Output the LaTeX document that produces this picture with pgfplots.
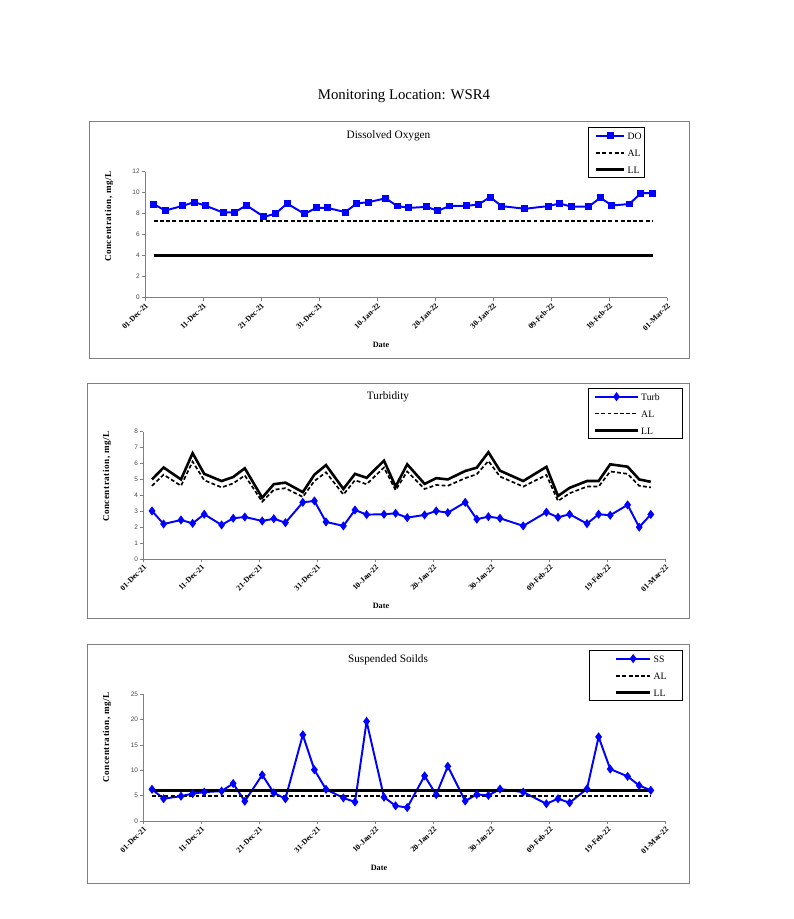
\documentclass[border=0pt]{standalone}
\usepackage{fontspec}
\setmainfont{Liberation Serif}
\setsansfont{Liberation Sans}
\usepackage{pgfplots}
\usepackage{pgfplotstable}
\pgfplotsset{compat=1.18}

\pgfplotstableread{
x DO Turb TAL TLL SS
1.5 8.90 3.02 4.60 5.00 6.25
3.5 8.30 2.20 5.30 5.75 4.40
6.5 8.75 2.45 4.60 5.00 4.90
8.5 9.10 2.24 6.12 6.65 5.40
10.5 8.75 2.81 4.95 5.35 5.70
13.5 8.10 2.14 4.50 4.90 5.90
15.5 8.15 2.56 4.75 5.15 7.40
17.5 8.80 2.64 5.25 5.70 3.90
20.5 7.70 2.39 3.60 3.85 9.10
22.5 8.00 2.53 4.35 4.70 5.55
24.5 8.97 2.28 4.45 4.80 4.40
27.5 7.98 3.56 3.90 4.20 17.00
29.5 8.55 3.65 4.90 5.30 10.10
31.5 8.55 2.33 5.45 5.90 6.25
34.5 8.15 2.08 4.05 4.40 4.55
36.5 8.97 3.08 4.95 5.35 3.75
38.5 9.10 2.79 4.70 5.10 19.65
41.5 9.46 2.81 5.75 6.18 4.70
43.5 8.73 2.87 4.32 4.55 3.00
45.5 8.55 2.60 5.50 5.95 2.65
48.5 8.65 2.77 4.40 4.72 8.90
50.5 8.28 3.02 4.65 5.08 5.20
52.5 8.73 2.91 4.60 5.00 10.80
55.5 8.75 3.56 5.08 5.53 3.95
57.5 8.88 2.50 5.33 5.74 5.25
59.5 9.58 2.66 6.16 6.71 5.05
61.5 8.72 2.56 5.18 5.55 6.30
65.5 8.47 2.08 4.55 4.90 5.70
69.5 8.72 2.94 5.28 5.79 3.40
71.5 8.97 2.62 3.65 3.96 4.40
73.5 8.67 2.81 4.13 4.47 3.60
76.5 8.67 2.22 4.55 4.90 6.35
78.5 9.52 2.81 4.55 4.90 16.60
80.5 8.78 2.75 5.50 5.95 10.25
83.5 8.92 3.40 5.35 5.80 8.80
85.5 9.95 2.00 4.60 5.00 7.00
87.5 9.95 2.80 4.50 4.85 6.05
}\datatable

\definecolor{exblue}{RGB}{0,0,255}
\definecolor{axgray}{RGB}{128,128,128}
\definecolor{lblgray}{RGB}{70,70,70}

\pgfplotsset{
  panel/.style={
    scale only axis, width=402.35pt, anchor=south west,
    xmin=0, xmax=90,
    axis x line=bottom, axis y line=left,
    axis line style={-, draw=axgray, line width=0.6pt},
    tick align=outside, major tick length=2.4pt,
    tick style={draw=axgray, line width=0.6pt},
    xtick={0,10,...,90},
    xticklabels={01-Dec-21,11-Dec-21,21-Dec-21,31-Dec-21,10-Jan-22,20-Jan-22,30-Jan-22,09-Feb-22,19-Feb-22,01-Mar-22},
    xticklabel style={font=\fontsize{6}{7}\selectfont\bfseries, rotate=45, anchor=north east, inner sep=0.8pt},
    yticklabel style={font=\fontsize{5}{6}\selectfont\sffamily, text=lblgray, inner sep=1.5pt},
    /pgf/number format/assume math mode=true,
    legend cell align=left,
    clip=false,
  },
  leg/.style n args={3}{
    legend style={at={(axis description cs:#1,#2)}, anchor=north west,
      draw=black, line width=1pt, fill=white,
      inner xsep=0pt, inner ysep=3.5pt, row sep=7.8pt,
      font=\fontsize{7.5}{8}\selectfont,
      nodes={inner sep=0pt, text height=5.3pt, text depth=0pt, text width=#3, align=left}},
  },
  ALstyle/.style={black, line width=1.5pt, dash pattern=on 3pt off 1.8pt, mark=none},
  LLstyle/.style={black, line width=2.3pt, mark=none},
  legDO/.style={legend image code/.code={\path (0pt,0pt) (27.7pt,0pt);
    \draw[mark repeat=2,mark phase=2,##1] plot coordinates {(4.6pt,0pt) (15.4pt,0pt) (26.2pt,0pt)};}},
  legTB/.style={legend image code/.code={\path (0pt,0pt) (38.5pt,0pt);
    \draw[mark repeat=2,mark phase=2,##1] plot coordinates {(3.9pt,0pt) (20.45pt,0pt) (37pt,0pt)};}},
  legSS/.style={legend image code/.code={\path (0pt,0pt) (47pt,0pt);
    \draw[mark repeat=2,mark phase=2,##1] plot coordinates {(19.3pt,0pt) (32.4pt,0pt) (45.5pt,0pt)};}},
}

\begin{document}
\begin{tikzpicture}[x=0.77078pt,y=0.77078pt]
\useasboundingbox (0,0) rectangle (794,919);
\coordinate (P1) at (145,621.3);
\coordinate (P2) at (143.3,360);
\coordinate (P3) at (143.3,98);
\node[font=\fontsize{11.4}{13}\selectfont] at (404,822.3) {Monitoring Location: WSR4};

% ---------- Panel 1 ----------
\draw[axgray, line width=0.6pt] (89,798) rectangle (689,560.5);
\node[font=\fontsize{8.7}{10}\selectfont] at (388.5,783) {Dissolved Oxygen};
\node[rotate=90, font=\fontsize{7}{8}\selectfont\bfseries\addfontfeatures{LetterSpace=6}] at (109,702.3) {Concentration, mg/L};
\node[font=\fontsize{6.3}{7}\selectfont\bfseries] at (381,574) {Date};

% ---------- Panel 2 ----------
\draw[axgray, line width=0.6pt] (87,536) rectangle (689,301);
\node[font=\fontsize{8.7}{10}\selectfont] at (388,522.3) {Turbidity};
\node[rotate=90, font=\fontsize{7}{8}\selectfont\bfseries\addfontfeatures{LetterSpace=6}] at (107,442.3) {Concentration, mg/L};
\node[font=\fontsize{6.3}{7}\selectfont\bfseries] at (381,313.3) {Date};

% ---------- Panel 3 ----------
\draw[axgray, line width=0.6pt] (87,275) rectangle (689,36);
\node[font=\fontsize{8.7}{10}\selectfont] at (388,259.7) {Suspended Soilds};
\node[rotate=90, font=\fontsize{7}{8}\selectfont\bfseries\addfontfeatures{LetterSpace=6}] at (107,181.5) {Concentration, mg/L};
\node[font=\fontsize{6.3}{7}\selectfont\bfseries] at (379,51) {Date};

\begin{axis}[panel, at={(P1)}, height=97.12pt,
  ymin=0, ymax=12, ytick={0,2,...,12},
  leg={0.8487}{1.3548}{13.1pt}, legDO,
]
\addplot[exblue, line width=1.5pt, mark=square*, mark size=1.9pt, mark options={solid, fill=exblue}] table[x=x, y=DO] {\datatable};
\addlegendentry{DO}
\addplot[ALstyle] coordinates {(1.5,7.3) (87.5,7.3)};
\addlegendentry{AL}
\addplot[LLstyle] coordinates {(1.5,4) (87.5,4)};
\addlegendentry{LL}
\end{axis}

\begin{axis}[panel, at={(P2)}, height=98.12pt,
  ymin=0, ymax=8, ytick={0,1,...,8},
  leg={0.852}{1.343}{31.6pt}, legTB,
]
\addplot[exblue, line width=1.5pt, mark=diamond*, mark size=2.3pt, mark options={solid, fill=exblue}] table[x=x, y=Turb] {\datatable};
\addlegendentry{Turb}
\addplot[ALstyle, line width=1.3pt] table[x=x, y=TAL] {\datatable};
\addlegendentry{AL}
\addplot[LLstyle, line width=2pt] table[x=x, y=TLL] {\datatable};
\addlegendentry{LL}
\end{axis}

\begin{axis}[panel, at={(P3)}, height=97.66pt,
  ymin=0, ymax=25, ytick={0,5,...,25},
  leg={0.8538}{1.3496}{22.4pt}, legSS,
]
\addplot[exblue, line width=1.5pt, mark=diamond*, mark size=2.3pt, mark options={solid, fill=exblue}] table[x=x, y=SS] {\datatable};
\addlegendentry{SS}
\addplot[ALstyle] coordinates {(1.5,5) (87.5,5)};
\addlegendentry{AL}
\addplot[LLstyle] coordinates {(1.5,6) (87.5,6)};
\addlegendentry{LL}
\end{axis}
\end{tikzpicture}
\end{document}
